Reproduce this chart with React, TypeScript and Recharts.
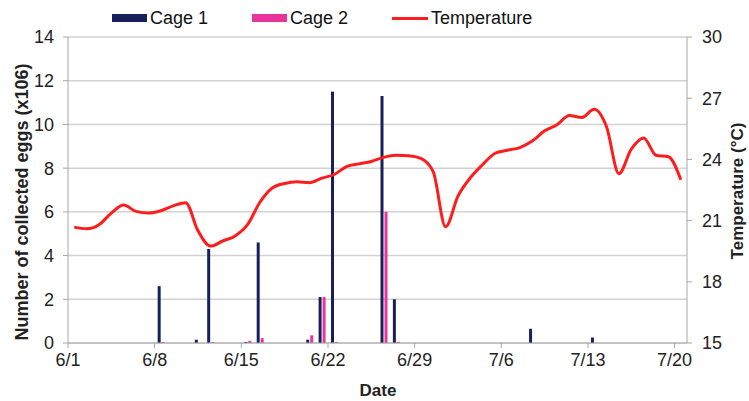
import { ComposedChart, Bar, Line, XAxis, YAxis, CartesianGrid, Label } from 'recharts';

const DAYS = [
    '6/1', '6/2', '6/3', '6/4', '6/5', '6/6', '6/7', '6/8', '6/9', '6/10',
    '6/11', '6/12', '6/13', '6/14', '6/15', '6/16', '6/17', '6/18', '6/19', '6/20',
    '6/21', '6/22', '6/23', '6/24', '6/25', '6/26', '6/27', '6/28', '6/29', '6/30',
    '7/1', '7/2', '7/3', '7/4', '7/5', '7/6', '7/7', '7/8', '7/9', '7/10',
    '7/11', '7/12', '7/13', '7/14', '7/15', '7/16', '7/17', '7/18', '7/19', '7/20'
];

// collected eggs (x10^6) per day
const CAGE_1 = [
    0, 0, 0, 0, 0, 0, 0, 2.6, 0, 0,
    0.15, 4.3, 0, 0, 0.05, 4.6, 0, 0, 0, 0.15,
    2.1, 11.5, 0, 0, 0, 11.3, 2.0, 0, 0, 0,
    0, 0, 0, 0, 0, 0, 0, 0.65, 0, 0,
    0, 0, 0.25, 0, 0, 0, 0, 0, 0, 0
];
const CAGE_2 = [
    0, 0, 0, 0, 0, 0, 0, 0.05, 0, 0,
    0, 0.04, 0, 0, 0.1, 0.22, 0, 0, 0, 0.35,
    2.1, 0.05, 0, 0, 0, 6.0, 0.05, 0, 0, 0,
    0, 0, 0, 0, 0, 0, 0, 0, 0, 0,
    0, 0, 0, 0, 0, 0, 0, 0, 0, 0
];
// daily temperature (°C)
const TEMPERATURE = [
    20.68, 20.6, 20.8, 21.37, 21.76, 21.45, 21.37, 21.48, 21.72, 21.88,
    20.5, 19.75, 20.0, 20.25, 20.8, 21.9, 22.6, 22.82, 22.9, 22.86,
    23.08, 23.26, 23.65, 23.78, 23.9, 24.1, 24.2, 24.18, 24.05, 23.4,
    20.7, 22.2, 23.1, 23.75, 24.3, 24.45, 24.58, 24.9, 25.4, 25.7,
    26.15, 26.05, 26.46, 25.6, 23.3, 24.5, 25.05, 24.2, 24.13, 23.0
];

const DATE_TICKS = ['6/1', '6/8', '6/15', '6/22', '6/29', '7/6', '7/13', '7/20'];
const EGG_TICKS = [0, 2, 4, 6, 8, 10, 12, 14];
const TEMP_TICKS = [15, 18, 21, 24, 27, 30];

const CAGE_1_COLOR = '#17205a';
const CAGE_2_COLOR = '#e8359b';
const TEMP_COLOR = '#ff1c1c';
const FONT = 'Arial, "Liberation Sans", sans-serif';

// each day sits in the middle of its own slot on the date axis
const data = DAYS.map((day, i) => ({
    x: i + 0.5,
    day,
    cage1: CAGE_1[i],
    cage2: CAGE_2[i],
    temp: TEMPERATURE[i]
}));
const tickPositions = DATE_TICKS.map(t => DAYS.indexOf(t));

const tickStyle = { fontSize: 18, fill: '#222', fontFamily: FONT };
const titleStyle = { fontSize: 17, fontWeight: 'bold' as const, fill: '#222', fontFamily: FONT };

function LegendRow() {
    const item = { display: 'flex', alignItems: 'center' };
    const text = { fontSize: 18, color: '#111', marginLeft: 3 };
    return (
        <div style={{ position: 'absolute', left: 112, top: 6, display: 'flex', gap: 44, fontFamily: FONT, lineHeight: '24px' }}>
            <div style={item}>
                <span style={{ width: 35, height: 8, background: CAGE_1_COLOR, display: 'inline-block' }} />
                <span style={text}>Cage 1</span>
            </div>
            <div style={item}>
                <span style={{ width: 35, height: 8, background: CAGE_2_COLOR, display: 'inline-block' }} />
                <span style={text}>Cage 2</span>
            </div>
            <div style={item}>
                <span style={{ width: 36, height: 3, background: TEMP_COLOR, display: 'inline-block' }} />
                <span style={text}>Temperature</span>
            </div>
        </div>
    );
}

export default function App() {
    return (
        <div style={{ position: 'absolute', left: 0, top: 0, width: 749, height: 401, background: '#fff' }}>
            <ComposedChart
                width={749}
                height={401}
                data={data}
                margin={{ top: 37, right: 0, bottom: 0, left: 0 }}
                barGap={1}
            >
                <CartesianGrid yAxisId="left" vertical={false} stroke="#d2d2d2" strokeWidth={1.5} />
                <XAxis
                    type="number"
                    dataKey="x"
                    domain={[0, 50]}
                    ticks={tickPositions}
                    tickFormatter={(v: number) => DAYS[v] ?? ''}
                    allowDataOverflow
                    height={58}
                    tick={tickStyle}
                    tickSize={5}
                    tickMargin={5}
                    stroke="#a8a8a8"
                >
                    <Label
                        content={() => (
                            <text x={378} y={390} textAnchor="middle" dominantBaseline="central" style={titleStyle}>
                                Date
                            </text>
                        )}
                    />
                </XAxis>
                <YAxis
                    yAxisId="left"
                    domain={[0, 14]}
                    ticks={EGG_TICKS}
                    width={68}
                    tick={tickStyle}
                    tickSize={5}
                    tickMargin={9}
                    stroke="#a8a8a8"
                    interval={0}
                >
                    <Label
                        content={() => (
                            <text
                                x={22}
                                y={202}
                                transform="rotate(-90 22 202)"
                                textAnchor="middle"
                                dominantBaseline="central"
                                style={{ ...titleStyle, fontSize: 18 }}
                            >
                                Number of collected eggs (x106)
                            </text>
                        )}
                    />
                </YAxis>
                <YAxis
                    yAxisId="right"
                    orientation="right"
                    domain={[15, 30]}
                    ticks={TEMP_TICKS}
                    width={62}
                    tick={tickStyle}
                    tickSize={5}
                    tickMargin={10}
                    stroke="#a8a8a8"
                    interval={0}
                >
                    <Label
                        content={() => (
                            <text
                                x={737}
                                y={191}
                                transform="rotate(-90 737 191)"
                                textAnchor="middle"
                                dominantBaseline="central"
                                style={titleStyle}
                            >
                                Temperature (°C)
                            </text>
                        )}
                    />
                </YAxis>
                <Bar yAxisId="left" dataKey="cage1" name="Cage 1" fill={CAGE_1_COLOR} barSize={3} isAnimationActive={false} />
                <Bar yAxisId="left" dataKey="cage2" name="Cage 2" fill={CAGE_2_COLOR} barSize={3} isAnimationActive={false} />
                <Line
                    yAxisId="right"
                    type="monotone"
                    dataKey="temp"
                    name="Temperature"
                    stroke={TEMP_COLOR}
                    strokeWidth={3}
                    dot={false}
                    activeDot={false}
                    isAnimationActive={false}
                />
            </ComposedChart>
            <LegendRow />
        </div>
    );
}
